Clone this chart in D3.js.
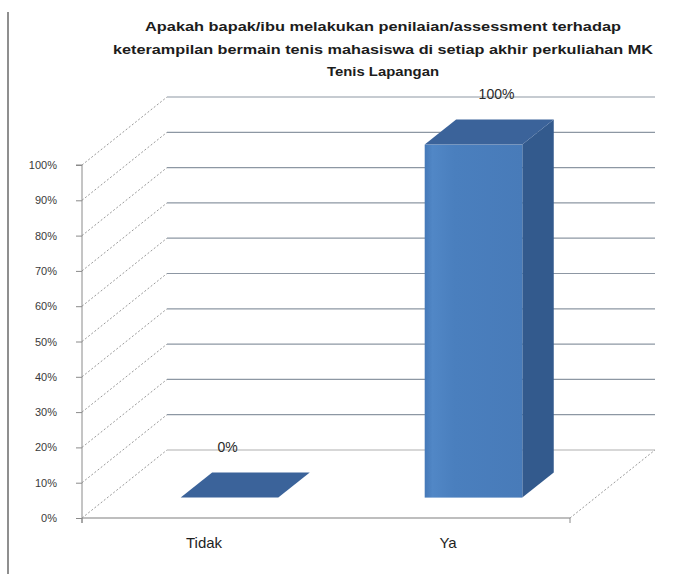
<!DOCTYPE html>
<html>
<head>
<meta charset="utf-8">
<script src="https://cdn.jsdelivr.net/npm/d3@7/dist/d3.min.js"></script>
<style>
  html, body { margin: 0; padding: 0; background: #ffffff; }
  svg { display: block; }
  text { font-family: "Liberation Sans", Arial, sans-serif; }
</style>
</head>
<body>
<svg id="chart" width="681" height="574"></svg>
<script>
// ---- data ----
const categories = ["Tidak", "Ya"];
const values = [0, 100];
const valueLabels = ["0%", "100%"];
const yTicks = [0, 10, 20, 30, 40, 50, 60, 70, 80, 90, 100];
const titleLines = [
  "Apakah bapak/ibu melakukan penilaian/assessment  terhadap",
  "keterampilan bermain tenis mahasiswa di setiap akhir perkuliahan MK",
  "Tenis Lapangan"
];

// ---- layout ----
const svg = d3.select("#chart");
const frontLeft = 82, frontRight = 570, y0px = 518, y100px = 165;
const DX = 85, DY = -68;             // depth of the 3D box
const f0 = 0.30, f1 = 0.67;          // bar depth fractions

const x = d3.scaleBand().domain(categories).range([frontLeft, frontRight]).padding(0);
const y = d3.scaleLinear().domain([0, 100]).range([y0px, y100px]);
const bw = x.bandwidth() * 0.4;

const defs = svg.append("defs");
const grad = defs.append("linearGradient").attr("id", "frontGrad")
  .attr("x1", "0%").attr("x2", "100%").attr("y1", "0%").attr("y2", "0%");
grad.append("stop").attr("offset", "0%").attr("stop-color", "#4579b8");
grad.append("stop").attr("offset", "8%").attr("stop-color", "#5187c6");
grad.append("stop").attr("offset", "30%").attr("stop-color", "#4a7fbe");
grad.append("stop").attr("offset", "100%").attr("stop-color", "#487bb9");

// left frame border
svg.append("line").attr("x1", 8).attr("x2", 8).attr("y1", 12).attr("y2", 574)
  .attr("stroke", "#8f8f8f").attr("stroke-width", 2);

// title
const titleLens = [476, 540, 112];
const titleY = [31, 54, 76];
svg.append("g").selectAll("text").data(titleLines).join("text")
  .attr("x", 383).attr("y", (d, i) => titleY[i])
  .attr("text-anchor", "middle")
  .attr("font-size", 13).attr("font-weight", "bold").attr("fill", "#1c1c1c")
  .attr("textLength", (d, i) => titleLens[i]).attr("lengthAdjust", "spacingAndGlyphs")
  .text(d => d);

// grid: side wall diagonals + back wall lines
const grid = svg.append("g");
yTicks.forEach(t => {
  grid.append("line")
    .attr("x1", frontLeft).attr("y1", y(t))
    .attr("x2", frontLeft + DX).attr("y2", y(t) + DY)
    .attr("stroke", "#9a9a9a").attr("stroke-width", 1).attr("stroke-dasharray", "2,2");
  grid.append("line")
    .attr("x1", frontLeft + DX).attr("y1", y(t) + DY)
    .attr("x2", frontRight + DX).attr("y2", y(t) + DY)
    .attr("stroke", t === 0 ? "#b0b0b0" : "#8d97a3").attr("stroke-width", 1.2);
});
// floor front edge and right diagonal
grid.append("line").attr("x1", frontLeft).attr("x2", frontRight).attr("y1", y(0)).attr("y2", y(0))
  .attr("stroke", "#a8a8a8").attr("stroke-width", 1.5);
grid.append("line").attr("x1", frontRight).attr("y1", y(0)).attr("x2", frontRight + DX).attr("y2", y(0) + DY)
  .attr("stroke", "#9a9a9a").attr("stroke-width", 1).attr("stroke-dasharray", "2,2");
[frontLeft, frontRight].forEach(px => {
  grid.append("line").attr("x1", px).attr("x2", px).attr("y1", y(0)).attr("y2", y(0) + 5)
    .attr("stroke", "#8a8a8a").attr("stroke-width", 1);
});

// y axis
const yAxis = d3.axisLeft(y).tickValues(yTicks).tickFormat(d => d + "%").tickSize(6).tickPadding(19);
const ax = svg.append("g").attr("transform", `translate(${frontLeft},0)`).call(yAxis);
ax.select(".domain").attr("stroke", "#8a8a8a").attr("d", `M-6,${y(100)}H0V${y(0) + 5}`);
ax.selectAll(".tick line").attr("stroke", "#8a8a8a");
ax.selectAll(".tick text").attr("font-size", 11).attr("fill", "#3a3a3a")
  .attr("font-family", "Liberation Sans, Arial, sans-serif");

// bars
const bars = svg.append("g");
categories.forEach((c, i) => {
  const v = values[i];
  const xl = x(c) + (x.bandwidth() - bw) / 2 + f0 * DX;
  const xr = xl + bw;
  const yb = y(0) + f0 * DY;
  const yt = y(v) + f0 * DY;
  const ddx = (f1 - f0) * DX, ddy = (f1 - f0) * DY;
  if (v > 0) {
    // side face
    bars.append("path")
      .attr("d", `M${xr},${yb}L${xr + ddx},${yb + ddy}L${xr + ddx},${yt + ddy}L${xr},${yt}Z`)
      .attr("fill", "#335a8d");
    // front face
    bars.append("rect").attr("x", xl).attr("y", yt).attr("width", bw).attr("height", yb - yt)
      .attr("fill", "url(#frontGrad)");
  }
  // top face
  bars.append("path")
    .attr("d", `M${xl},${yt}L${xr},${yt}L${xr + ddx},${yt + ddy}L${xl + ddx},${yt + ddy}Z`)
    .attr("fill", "#3b639a");
});

// data labels
svg.append("g").selectAll("text").data(values).join("text")
  .attr("x", (d, i) => x(categories[i]) + x.bandwidth() / 2 + f0 * DX + (d > 0 ? 23 : -2))
  .attr("y", d => y(d) + DY + 2)
  .attr("text-anchor", "middle")
  .attr("font-size", 14).attr("fill", "#2a2a2a")
  .text((d, i) => valueLabels[i]);

// category labels
svg.append("g").selectAll("text").data(categories).join("text")
  .attr("x", d => x(d) + x.bandwidth() / 2)
  .attr("y", 548)
  .attr("text-anchor", "middle")
  .attr("font-size", 15).attr("fill", "#1e1e1e")
  .text(d => d);
</script>
</body>
</html>
